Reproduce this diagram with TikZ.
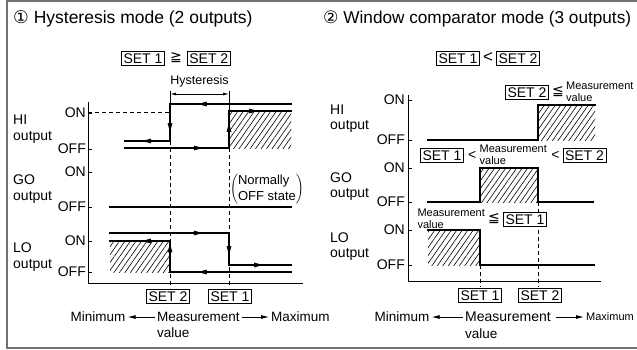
\documentclass[tikz,border=0pt]{standalone}
\usepackage{fontspec}
\setmainfont{Liberation Sans}
\newfontfamily\dejavu{DejaVu Sans}
\usetikzlibrary{arrows.meta, positioning, patterns.meta, decorations.markings}

\begin{document}
\begin{tikzpicture}[
    x=1pt, y=-1pt,
    ttl/.style={font=\fontsize{17.5}{20}\selectfont, inner sep=0pt},
    lbl/.style={font=\fontsize{14}{15.5}\selectfont, inner sep=0pt, align=left},
    axlbl/.style={font=\fontsize{13.5}{15}\selectfont, inner sep=0pt},
    small/.style={font=\fontsize{11}{12}\selectfont, inner sep=0pt, align=left},
    setbox/.style={draw, line width=0.8pt, fill=white, font=\fontsize{14}{16}\selectfont, inner sep=2pt, text height=10pt, text depth=0pt},
    axis/.style={line width=1pt},
    wave/.style={line width=1.2pt, line cap=rect},
    guide/.style={line width=0.8pt, dash pattern=on 4pt off 3pt},
    hatch/.style={pattern={Lines[angle=55, distance=4.5pt, line width=0.6pt]}},
    arr/.style={postaction={decorate}, decoration={markings, mark=at position #1 with {\fill (0pt,0pt) -- (-9pt,2.4pt) -- (-9pt,-2.4pt) -- cycle;}}},
    longarrow/.style={line width=0.8pt, -{Latex[length=8pt, width=4pt]}, shorten <=2pt, shorten >=2pt}
]
\useasboundingbox (0,0) rectangle (637,349);
\draw[black!55, line width=1.5pt] (640,1) -- (7,1) -- (7,348) -- (640,348);

% hysteresis mode
\node (ttlL) [ttl, anchor=west] at (13,19) {{\dejavu ①} Hysteresis mode (2 outputs)};
\node (s1a) [setbox] at (143,58) {SET 1};
\node (geqa) [lbl, right=5pt of s1a] {\dejavu ≧};
\node (s2a) [setbox, right=5pt of geqa] {SET 2};

\draw[axis] (88,102) -- (88,283) -- (303,283);
\foreach \y/\t in {113/ON, 149/OFF, 172/ON, 207/OFF, 241/ON, 272/OFF}{
  \draw[axis] (88,\y) -- (92,\y);
  \node (lvL\y) [lbl, anchor=east] at (86,\y) {\t};
}
\node (hiL) [lbl, anchor=west] at (13,129) {HI\\output};
\node (goL) [lbl, anchor=west] at (13,189) {GO\\output};
\node (loL) [lbl, anchor=west] at (13,257) {LO\\output};

\fill[hatch] (229,111) rectangle (291,148);
\fill[hatch] (110,241) rectangle (170,272);

\draw[guide] (88,112) -- (170,112);
\draw[guide] (170,141) -- (170,288);
\draw[guide] (229,148) -- (229,288);

\draw[line width=0.8pt] (170,91) -- (170,104) (229,91) -- (229,111);
\draw[line width=0.8pt, {Latex[length=6pt,width=3pt]}-{Latex[length=6pt,width=3pt]}] (170,94) -- (229,94);
\node (hys) [font=\fontsize{12.5}{14}\selectfont, inner sep=0pt] at (199.5,81) {Hysteresis};

\draw[wave, arr=.77] (291,104) -- (170,104);
\draw[wave, arr=.76] (170,104) -- (170,141);
\draw[wave, arr=.62] (170,141) -- (125,141);
\draw[wave, arr=.75] (125,148) -- (229,148);
\draw[wave, arr=.68] (229,148) -- (229,111);
\draw[wave, arr=.47] (229,111) -- (291,111);

\draw[wave] (110,207) -- (291,207);
\node (nrm) [font=\fontsize{13}{16}\selectfont, inner sep=0pt] at (267,189) {$\left(\vcenter{\hbox{\begin{tabular}{@{}l@{}}Normally\\OFF state\end{tabular}}}\right)$};

\draw[wave, arr=.78] (110,233) -- (229,233);
\draw[wave, arr=.69] (229,233) -- (229,265);
\draw[wave, arr=.55] (229,265) -- (291,265);
\draw[wave, arr=.77] (291,272) -- (170,272);
\draw[wave, arr=.92] (170,272) -- (170,241);
\draw[wave, arr=.47] (170,241) -- (110,241);

\node (s2b) [setbox] at (168,296) {SET 2};
\node (s1b) [setbox] at (230,296) {SET 1};
\node (minL) [axlbl] at (98,317) {Minimum};
\node (measL) [axlbl, anchor=west] at (157,317) {Measurement};
\node (maxL) [axlbl, anchor=west] at (271,317) {Maximum};
\node (valL) [axlbl, below=6pt of measL.south west, anchor=north west] {value};
\draw[longarrow] (measL.west) -- (minL.east);
\draw[longarrow] (measL.east) -- (maxL.west);

% window comparator mode
\node (ttlR) [ttl, font=\fontsize{17.2}{20}\selectfont, anchor=west] at (323,19) {{\dejavu ②} Window comparator mode (3 outputs)};
\node (s1c) [setbox] at (458,58) {SET 1};
\node (ltc) [lbl, font=\fontsize{17}{18}\selectfont, right=3pt of s1c] {<};
\node (s2c) [setbox, right=3pt of ltc] {SET 2};

\draw[axis] (408,95) -- (408,281) -- (601,281);
\foreach \y/\t in {100/ON, 140/OFF, 168/ON, 202/OFF, 230/ON, 265/OFF}{
  \draw[axis] (408,\y) -- (412,\y);
  \node (lvR\y) [lbl, anchor=east] at (405,\y) {\t};
}
\node (hiR) [lbl, anchor=west] at (330,118.5) {HI\\output};
\node (goR) [lbl, anchor=west] at (330,186.5) {GO\\output};
\node (loR) [lbl, anchor=west] at (330,246.5) {LO\\output};

\fill[hatch] (538,105) rectangle (595,140);
\fill[hatch] (480,168) rectangle (538,202);
\fill[hatch] (428,230) rectangle (480,265);

\draw[guide] (480,265) -- (480,287);
\draw[guide] (538,202) -- (538,287);

\draw[wave] (428,140) -- (538,140) -- (538,105) -- (595,105);
\draw[wave] (428,202) -- (480,202) -- (480,168) -- (538,168) -- (538,202) -- (593,202);
\draw[wave] (428,230) -- (480,230) -- (480,265) -- (594,265);

\node (s2d) [setbox] at (527,92) {SET 2};
\node (leqd) [lbl, right=3pt of s2d] {\dejavu ≦};
\node (measd) [small, right=2pt of leqd] {Measurement\\value};

\node (s1e) [setbox] at (442,155) {SET 1};
\node (lte) [lbl, right=4pt of s1e] {<};
\node (mease) [small, right=3pt of lte] {Measurement\\value};
\node (lte2) [lbl, right=4pt of mease] {<};
\node (s2e) [setbox, right=3pt of lte2] {SET 2};

\node (s1f) [setbox] at (525,219) {SET 1};
\node (leqf) [lbl, left=3pt of s1f] {\dejavu ≦};
\node (measf) [small, left=3pt of leqf] {Measurement\\value};

\node (s1g) [setbox] at (480,295) {SET 1};
\node (s2g) [setbox] at (540,295) {SET 2};
\node (minR) [axlbl] at (402,317) {Minimum};
\node (measR) [axlbl, font=\fontsize{14}{15}\selectfont, anchor=west] at (465,317) {Measurement};
\node (maxR) [small, anchor=west] at (586,317) {Maximum};
\node (valR) [axlbl, below=6pt of measR.south west, anchor=north west] {value};
\draw[longarrow] (measR.west) -- (minR.east);
\draw[longarrow, shorten <=5pt] (measR.east) -- (maxR.west);
\end{tikzpicture}
\end{document}
